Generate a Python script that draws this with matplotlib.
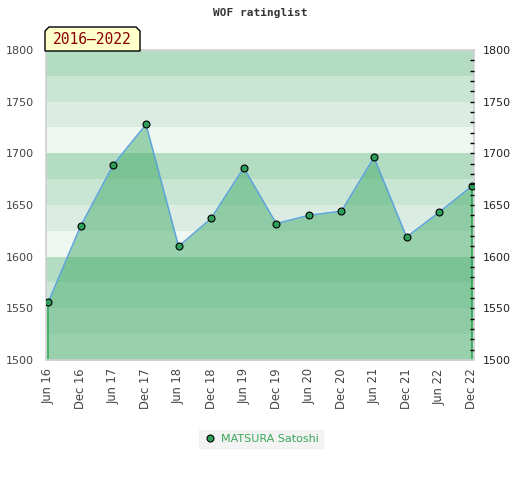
import numpy as np
import matplotlib
matplotlib.use('Agg')
from matplotlib import pyplot as plt
from matplotlib.patches import Polygon
from matplotlib.ticker import MultipleLocator, FixedLocator
from matplotlib.lines import Line2D

# data
periods = ['Jun 16', 'Dec 16', 'Jun 17', 'Dec 17', 'Jun 18', 'Dec 18', 'Jun 19',
           'Dec 19', 'Jun 20', 'Dec 20', 'Jun 21', 'Dec 21', 'Jun 22', 'Dec 22']
rating = [1556, 1630, 1689, 1728, 1610, 1637, 1686,
          1632, 1640, 1644, 1696, 1619, 1643, 1668]
player = 'MATSURA Satoshi'
span_label = '2016\u20132022'
title = 'WOF ratinglist'

y_min, y_max = 1500, 1800
band_colors = ['#eff7f2', '#dbede2', '#c8e6d3', '#b3dcc2']

plt.rcParams['font.family'] = 'DejaVu Sans'

fig = plt.figure(figsize=(5.2, 4.8), dpi=100)
ax = fig.add_axes([46 / 520, 120 / 480, 428 / 520, 310 / 480])

x = np.arange(len(periods))

# background bands, every 25 points
for i, lo in enumerate(range(y_min, y_max, 25)):
    ax.axhspan(lo, lo + 25, color=band_colors[i % 4], lw=0, zorder=0)

ax.fill_between(x, y_min, rating, color='#45ac6a', alpha=0.5, lw=0, zorder=1)
ax.vlines([x[0], x[-1]], y_min, [rating[0], rating[-1]], color='#2aa850', lw=1.2, zorder=2)
ax.plot(x, rating, color='#5ba3d9', lw=1.1, zorder=3)
ax.plot(x, rating, 'o', ms=5, mfc='#2e9e5a', mec='black', mew=0.8, zorder=4)

ax.set_xlim(-0.07, len(periods) - 1 + 0.07)
ax.set_ylim(y_min, y_max)
ax.set_xticks(x)
ax.set_xticklabels(periods, rotation=90, fontsize=8.3, color='#444444')
ax.yaxis.set_major_locator(MultipleLocator(50))
ax.tick_params(axis='y', length=0, pad=9, labelsize=8, labelcolor='#444444')
ax.tick_params(axis='x', length=0, pad=6)
for s in ax.spines.values():
    s.set_color('#d0d0d0')
    s.set_linewidth(1.2)

ax2 = ax.twinx()
ax2.set_ylim(y_min, y_max)
ax2.yaxis.set_major_locator(MultipleLocator(50))
ax2.yaxis.set_minor_locator(FixedLocator(np.arange(y_min + 10, y_max, 10)))
ax2.yaxis.remove_overlapping_locs = False
ax2.tick_params(axis='y', which='major', length=0, labelsize=8,
                labelcolor='#222222', pad=6)
ax2.tick_params(axis='y', which='minor', direction='in', length=3, width=1,
                color='black')
for s in ax2.spines.values():
    s.set_visible(False)

fig.text(0.5, 1 - 13 / 480, title, ha='center', va='center', fontsize=8,
         family='DejaVu Sans Mono', weight='bold', color='#333333')

# label tab above the plot
px = lambda xx, yy: (xx / 520, 1 - yy / 480)
tab = Polygon([px(45, 51), px(45, 31), px(49, 27), px(136, 27), px(140, 31), px(140, 51)],
              closed=True, transform=fig.transFigure, facecolor='#ffffcc',
              edgecolor='black', lw=1, zorder=5)
fig.patches.append(tab)
fig.text(92 / 520, 1 - 40 / 480, span_label, ha='center', va='center', fontsize=10.5,
         family='DejaVu Sans Mono', color='#8b0000', zorder=6)

handle = Line2D([], [], ls='none', marker='o', ms=5, mfc='#2e9e5a', mec='black', mew=0.8)
leg = fig.legend([handle], [player], loc='center', bbox_to_anchor=(261 / 520, 1 - 439 / 480),
                 frameon=True, fancybox=False, fontsize=8, handletextpad=0.4,
                 borderpad=0.35, handlelength=1.2)
leg.get_frame().set_facecolor('#f0f0f0')
leg.get_frame().set_edgecolor('#f0f0f0')
for t in leg.get_texts():
    t.set_color('#3aa85a')

plt.savefig('out.png', dpi=100)
